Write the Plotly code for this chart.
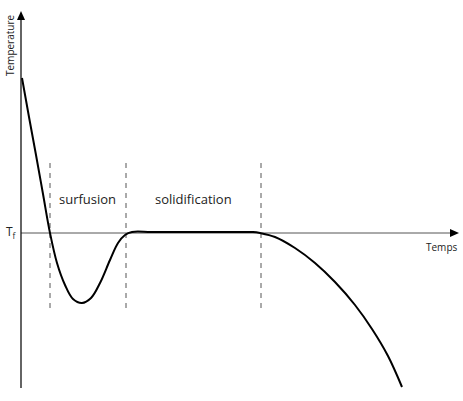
import plotly.graph_objects as go

# Cooling curve (time t, temperature T relative to Tf)
t_vals = [1, 8, 15, 22, 29, 36, 44, 52, 61, 70, 79, 89, 97, 104, 111, 130, 160, 190, 220, 232, 239, 254, 274, 294, 314, 334, 351, 367, 381]
T_vals = [155, 116, 78, 39, 0, -30, -52, -66, -70, -65, -50, -27, -10, -2, 1, 1, 1, 1, 1, 1, 0, -4, -15, -30, -49, -72, -96, -123, -154]

# Phase boundaries
boundaries_t = [29, 105, 240]
boundary_T = [70, -80]

phase_labels = ["surfusion", "solidification"]
phase_label_t = [66.5, 172.5]
phase_label_T = 34

FONT = "Open Sans"

fig = go.Figure()

for bt in boundaries_t:
    fig.add_trace(go.Scatter(x=[bt, bt], y=boundary_T, mode="lines",
                             line=dict(color="#555555", width=1, dash="5px,5px"),
                             hoverinfo="skip", showlegend=False))

# horizontal axis at Tf
fig.add_trace(go.Scatter(x=[0, 432], y=[0, 0], mode="lines",
                         line=dict(color="#555555", width=1), hoverinfo="skip", showlegend=False))
# vertical axis
fig.add_trace(go.Scatter(x=[0, 0], y=[-155, 215], mode="lines",
                         line=dict(color="#111111", width=1.3), hoverinfo="skip", showlegend=False))

fig.add_trace(go.Scatter(x=t_vals, y=T_vals, mode="lines",
                         line=dict(color="black", width=2, shape="spline", smoothing=1.0),
                         hoverinfo="skip", showlegend=False))

# arrowheads
fig.add_shape(type="path", path="M 0 222 L -4 213 L 4 213 Z", fillcolor="black", line=dict(width=0))
fig.add_shape(type="path", path="M 438 0 L 429 4 L 429 -4 Z", fillcolor="black", line=dict(width=0))

for lab, lt in zip(phase_labels, phase_label_t):
    fig.add_annotation(x=lt, y=phase_label_T, text=lab, showarrow=False,
                       font=dict(family=FONT, size=13, color="#222222"))

fig.add_annotation(x=420, y=-14, text="Temps", showarrow=False,
                   font=dict(family=FONT, size=10, color="#222222"))
fig.add_annotation(x=-11, y=188, text="Temperature", showarrow=False, textangle=-90,
                   font=dict(family=FONT, size=10, color="#222222"))
fig.add_annotation(x=-10, y=1, text="T<sub>f</sub>", showarrow=False,
                   font=dict(family=FONT, size=12, color="#222222"))

fig.update_layout(
    width=463, height=401,
    margin=dict(l=0, r=0, t=0, b=0),
    paper_bgcolor="white", plot_bgcolor="white",
    xaxis=dict(range=[-21, 442], visible=False),
    yaxis=dict(range=[-168, 233], visible=False),
)

fig.write_html("out.html")
